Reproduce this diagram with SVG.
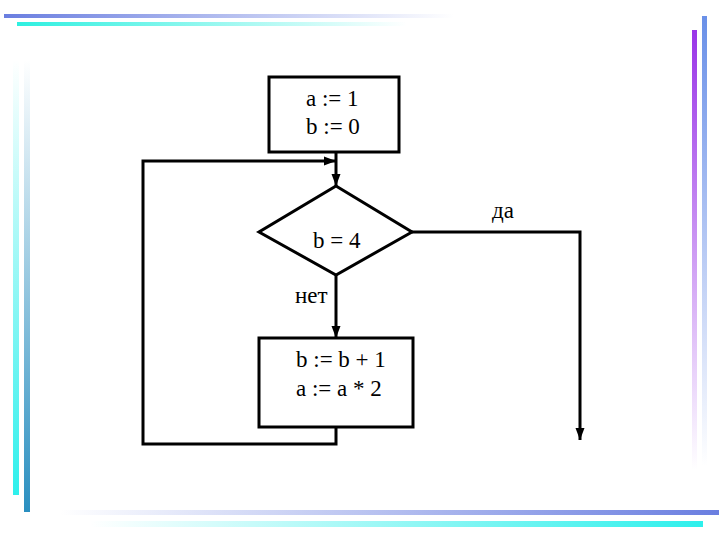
<svg xmlns="http://www.w3.org/2000/svg" width="720" height="540" viewBox="0 0 720 540">
<style>
.box{fill:#fff;stroke:#000;stroke-width:3}
.ln{fill:none;stroke:#000;stroke-width:3}
text{font-family:"Liberation Serif","DejaVu Serif","Times New Roman",serif;font-size:23px;fill:#000}
</style>
<defs>
<linearGradient id="gTop1" x1="0" y1="0" x2="1" y2="0"><stop offset="0" stop-color="#6a7ee0"/><stop offset="1" stop-color="#6a7ee0" stop-opacity="0"/></linearGradient>
<linearGradient id="gTop2" x1="0" y1="0" x2="1" y2="0"><stop offset="0" stop-color="#2ef0e0"/><stop offset="1" stop-color="#2ef0e0" stop-opacity="0"/></linearGradient>
<linearGradient id="gR1" x1="0" y1="0" x2="0" y2="1"><stop offset="0" stop-color="#9a35e8"/><stop offset="1" stop-color="#9a35e8" stop-opacity="0"/></linearGradient>
<linearGradient id="gR2" x1="0" y1="0" x2="0" y2="1"><stop offset="0" stop-color="#6a90e8"/><stop offset="1" stop-color="#6a90e8" stop-opacity="0"/></linearGradient>
<linearGradient id="gB1" x1="1" y1="0" x2="0" y2="0"><stop offset="0" stop-color="#6a7ee0"/><stop offset="1" stop-color="#6a7ee0" stop-opacity="0"/></linearGradient>
<linearGradient id="gB2" x1="1" y1="0" x2="0" y2="0"><stop offset="0" stop-color="#2ef0ec"/><stop offset="1" stop-color="#2ef0ec" stop-opacity="0"/></linearGradient>
<linearGradient id="gL1" x1="0" y1="1" x2="0" y2="0"><stop offset="0" stop-color="#2ef0ec"/><stop offset="1" stop-color="#2ef0ec" stop-opacity="0"/></linearGradient>
<linearGradient id="gL2" x1="0" y1="1" x2="0" y2="0"><stop offset="0" stop-color="#2a8fc0"/><stop offset="1" stop-color="#2a8fc0" stop-opacity="0"/></linearGradient>
<marker id="arr" viewBox="0 0 12 12" refX="12" refY="6" markerWidth="12" markerHeight="12" markerUnits="userSpaceOnUse" orient="auto">
<path d="M0,1.5 L12,6 L0,10.5 Z" fill="#000"/>
</marker>
</defs>
<rect width="720" height="540" fill="#fff"/>
<g id="decor">
<rect x="4" y="14" width="450" height="4" fill="url(#gTop1)"/>
<rect x="17" y="22" width="390" height="4" fill="url(#gTop2)"/>
<rect x="692" y="30" width="5" height="440" fill="url(#gR1)"/>
<rect x="702" y="16" width="5" height="450" fill="url(#gR2)"/>
<rect x="60" y="510" width="659" height="5" fill="url(#gB1)"/>
<rect x="90" y="521" width="613" height="6" fill="url(#gB2)"/>
<rect x="13" y="60" width="6" height="435" fill="url(#gL1)"/>
<rect x="24" y="60" width="6" height="452" fill="url(#gL2)"/>
</g>
<g id="connectors">
<line class="ln" x1="336" y1="152" x2="336" y2="186" marker-end="url(#arr)"/>
<polyline class="ln" points="336,428 336,444 143,444 143,161 336,161" marker-end="url(#arr)"/>
<line class="ln" x1="336" y1="275" x2="336" y2="338" marker-end="url(#arr)"/>
<polyline class="ln" points="412,232 580,232 580,440" marker-end="url(#arr)"/>
<text x="295" y="303">нет</text>
<text x="492" y="218">да</text>
</g>
<g id="init">
<rect class="box" x="269" y="77" width="130" height="75"/>
<text x="306" y="106">a := 1</text>
<text x="306" y="134">b := 0</text>
</g>
<g id="cond">
<polygon class="box" points="336,186 412,232 336,275 259,232"/>
<text x="313" y="248">b = 4</text>
</g>
<g id="body">
<rect class="box" x="259" y="338" width="154" height="89"/>
<text x="296" y="367">b := b + 1</text>
<text x="296" y="396">a := a * 2</text>
</g>
</svg>
